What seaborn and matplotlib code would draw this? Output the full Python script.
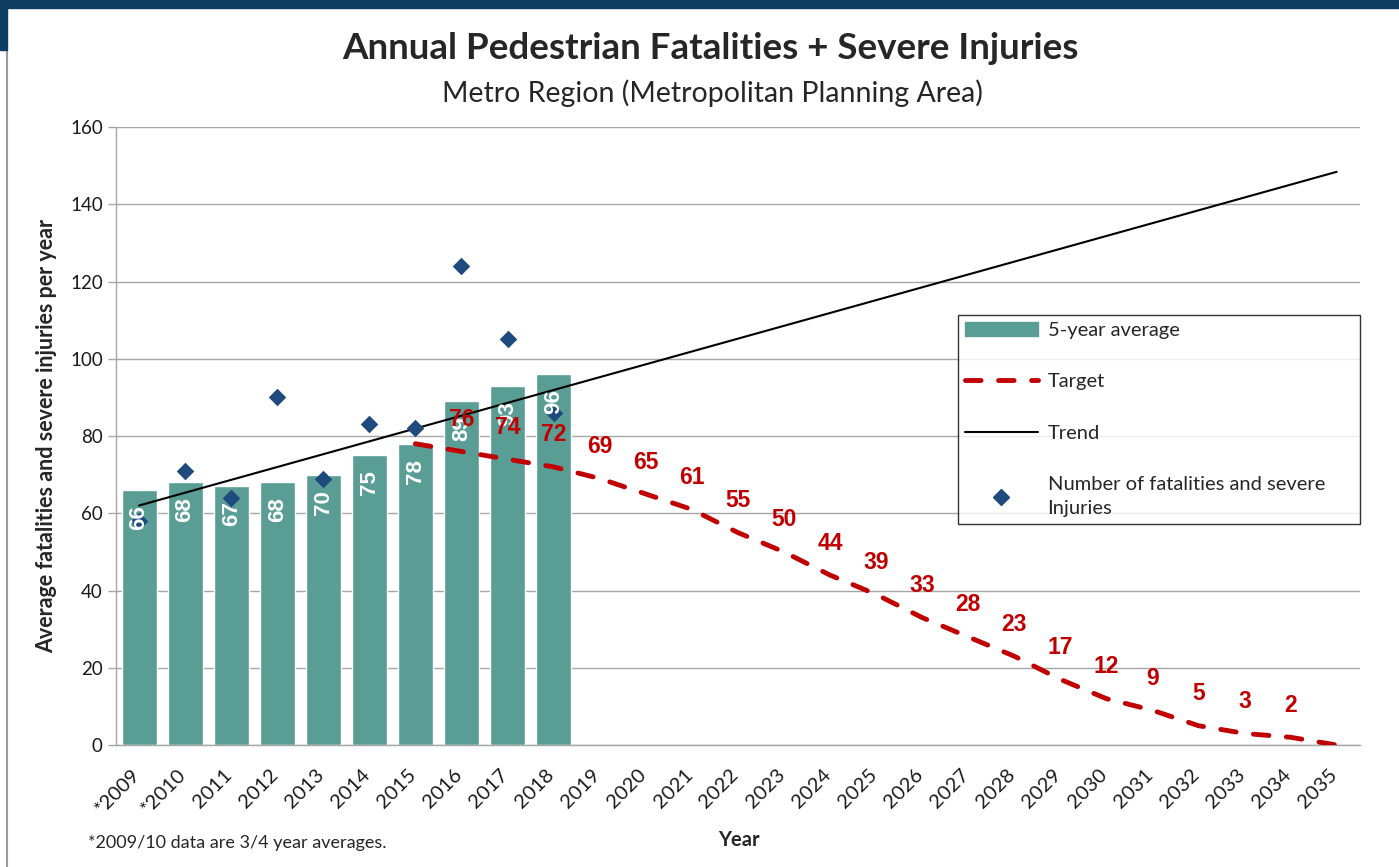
import matplotlib
matplotlib.use("Agg")
import matplotlib.pyplot as plt
from matplotlib.lines import Line2D
from matplotlib.patches import Patch, Rectangle
from matplotlib.transforms import ScaledTranslation
import seaborn as sns

# category axis: one slot per year
years = ['*2009', '*2010', '2011', '2012', '2013', '2014', '2015', '2016', '2017', '2018',
         '2019', '2020', '2021', '2022', '2023', '2024', '2025', '2026', '2027', '2028',
         '2029', '2030', '2031', '2032', '2033', '2034', '2035']

# 5-year average bars
avg_years = years[:10]
avg_vals = [66, 68, 67, 68, 70, 75, 78, 89, 93, 96]

# yearly counts (diamonds)
count_vals = [58, 71, 64, 90, 69, 83, 82, 124, 105, 86]

# target line
target_years = years[6:]
target_vals = [78, 76, 74, 72, 69, 65, 61, 55, 50, 44, 39, 33, 28, 23, 17, 12, 9, 5, 3, 2, 0]

# trend line end points
trend_years = ['*2009', '2035']
trend_vals = [62, 148.4]

teal = '#599d95'
navy = '#1f4a7e'
red = '#c00000'
grid = '#a6a6a6'
main_font = ['Lato', 'DejaVu Sans']
narrow_font = ['Liberation Sans', 'DejaVu Sans']

sns.set_theme(style='white')
plt.rcParams['font.family'] = main_font

fig = plt.figure(figsize=(13.99, 8.67), dpi=100)
ax = fig.add_axes([0.0829, 0.1407, 0.889, 0.7128])

pos = {y: i for i, y in enumerate(years)}

sns.barplot(x=avg_years, y=avg_vals, order=years, color=teal, saturation=1,
            width=0.76, ax=ax, zorder=2)

sns.lineplot(x=[pos[y] for y in trend_years], y=trend_vals, color='black',
             linewidth=1.5, ax=ax, zorder=3)

sns.scatterplot(x=[pos[y] for y in avg_years], y=count_vals, marker='D', s=80,
                color=navy, edgecolor=navy, linewidth=0, ax=ax, zorder=4)

tl = sns.lineplot(x=[pos[y] for y in target_years], y=target_vals, color=red,
                  linewidth=3.5, ax=ax, zorder=5)
tl.lines[-1].set_dashes((3.2, 3.6))
tl.lines[-1].set_dash_capstyle('round')

# bar labels (white, vertical, inside top)
for y, v in zip(avg_years, avg_vals):
    ax.annotate(str(v), (pos[y], v), xytext=(0, -11), textcoords='offset points',
                rotation=90, ha='center', va='top', color='white', fontsize=16,
                fontweight='bold', family=narrow_font, zorder=6)

# target labels
for y, v in zip(target_years, target_vals):
    if y in ('2015', '2035'):
        continue
    ax.annotate(str(v), (pos[y], v), xytext=(0, 23), textcoords='offset points',
                ha='center', va='center', color=red, fontsize=16.5,
                fontweight='bold', family=narrow_font, zorder=7)

ax.set_xlim(-0.5, len(years) - 0.5)
ax.set_ylim(0, 160)
ax.set_yticks(range(0, 161, 20))
ax.set_xticks(range(len(years)))
ax.set_xticklabels(years, rotation=45, ha='right', rotation_mode='anchor')
ax.set_xticks([i - 0.5 for i in range(len(years) + 1)], minor=True)
ax.tick_params(axis='x', which='major', length=0, labelsize=14.5, pad=15, colors='#1a1a1a')
ax.tick_params(axis='x', which='minor', length=6, width=1, color=grid, direction='out')
ax.tick_params(axis='y', length=6, width=1, color=grid, labelsize=13.5, colors='#1a1a1a',
               direction='out', left=True)
shift = ScaledTranslation(-8 / 100, 0, fig.dpi_scale_trans)
for lab in ax.get_xticklabels():
    lab.set_transform(lab.get_transform() + shift)
for lab in ax.get_yticklabels():
    lab.set_color('#1a1a1a')
ax.yaxis.grid(True, color=grid, linewidth=1)
ax.set_axisbelow(True)
for s in ['top', 'right']:
    ax.spines[s].set_visible(False)
for s in ['left', 'bottom']:
    ax.spines[s].set_color(grid)
    ax.spines[s].set_linewidth(1)

ax.set_xlabel('')
ax.set_ylabel('Average fatalities and severe injuries per year', fontsize=15.5,
              fontweight='bold', labelpad=9)
fig.text(0.528, 0.031, 'Year', ha='center', va='center', fontsize=14.5, fontweight='bold')
fig.text(0.063, 0.028, '*2009/10 data are 3/4 year averages.', ha='left', va='center',
         fontsize=13)

fig.text(0.508, 0.944, 'Annual Pedestrian Fatalities + Severe Injuries', ha='center',
         va='center', fontsize=26.5, fontweight='bold')
fig.text(0.509, 0.893, 'Metro Region (Metropolitan Planning Area)', ha='center',
         va='center', fontsize=20.5)

handles = [Patch(facecolor=teal, edgecolor=teal),
           Line2D([], [], color=red, linewidth=3.5, dashes=(3.2, 3.6), dash_capstyle='round'),
           Line2D([], [], color='black', linewidth=1.5),
           Line2D([], [], color=navy, marker='D', markersize=8, linestyle='none')]
labels = ['5-year average', 'Target', 'Trend', 'Number of fatalities and severe\nInjuries']
leg = fig.legend(handles, labels, loc='upper left',
                 bbox_to_anchor=(958 / 1399, 1 - 521 / 867, 402 / 1399, 206 / 867),
                 mode='expand', fontsize=14.5, frameon=True, fancybox=False,
                 edgecolor='black', handlelength=3.6, handleheight=0.7, labelspacing=1.7,
                 borderpad=0.35, handletextpad=0.5, borderaxespad=0)
leg.get_frame().set_linewidth(1)
leg.get_texts()[3].set_linespacing(1.5)

# slide frame
fig.add_artist(Rectangle((0, 1 - 8 / 867), 1, 8 / 867, transform=fig.transFigure,
                         color='#0d3d63', zorder=10))
fig.add_artist(Rectangle((0, 1 - 50 / 867), 7 / 1399, 50 / 867, transform=fig.transFigure,
                         color='#0d3d63', zorder=10))
fig.add_artist(Line2D([7 / 1399, 7 / 1399], [0, 1 - 50 / 867], transform=fig.transFigure,
                      color='#9a9a9a', linewidth=1.5))

fig.savefig('out.png', dpi=100, facecolor='white')
